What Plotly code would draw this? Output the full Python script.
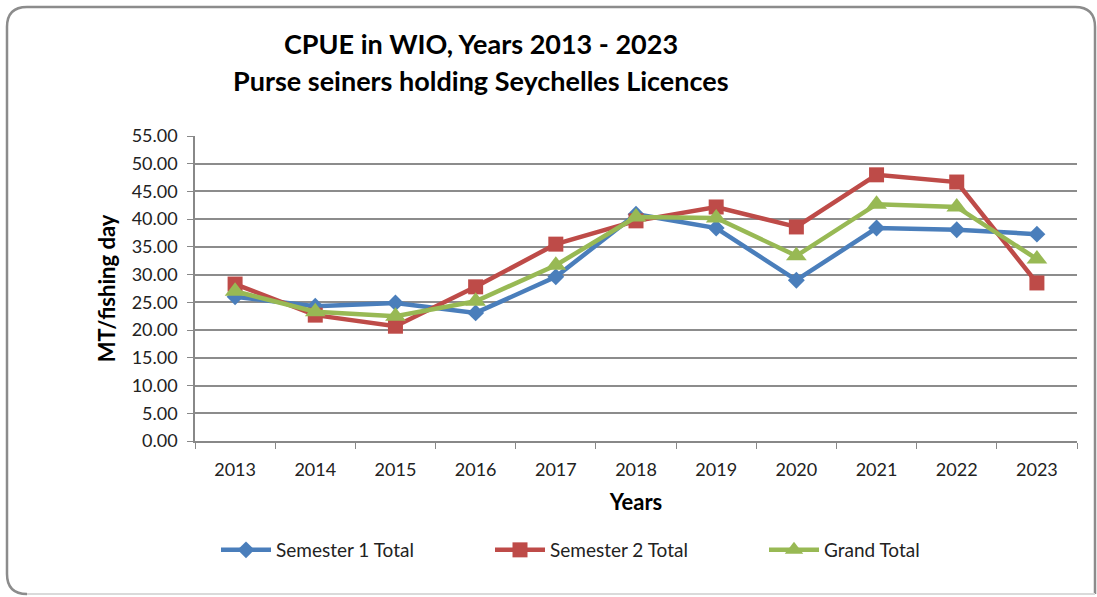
import plotly.graph_objects as go

years = ["2013", "2014", "2015", "2016", "2017", "2018", "2019", "2020", "2021", "2022", "2023"]
semester1 = [26.0, 24.3, 24.9, 23.1, 29.6, 40.9, 38.4, 29.0, 38.4, 38.1, 37.3]
semester2 = [28.3, 22.7, 20.7, 27.8, 35.5, 39.7, 42.2, 38.6, 48.0, 46.7, 28.5]
grand_total = [27.0, 23.3, 22.5, 25.2, 31.7, 40.4, 40.2, 33.4, 42.7, 42.2, 32.8]
y_ticks = [0, 5, 10, 15, 20, 25, 30, 35, 40, 45, 50, 55]

FONT = "Lato"
TXT = "#222222"
fig = go.Figure()
fig.add_trace(go.Scatter(x=years, y=semester1, name="Semester 1 Total", mode="lines+markers",
                         line=dict(color="#4A7EBB", width=4.5),
                         marker=dict(symbol="diamond", size=13, color="#4A7EBB")))
fig.add_trace(go.Scatter(x=years, y=semester2, name="Semester 2 Total", mode="lines+markers",
                         line=dict(color="#BE4B48", width=4.5),
                         marker=dict(symbol="square", size=15, color="#BE4B48")))
fig.add_trace(go.Scatter(x=years, y=grand_total, name="Grand Total", mode="lines+markers",
                         line=dict(color="#98B954", width=4.5),
                         marker=dict(symbol="triangle-up", size=18, color="#98B954")))

L, R, T, B = 195, 1077, 136, 441
W, H = R - L, B - T
def px(x):
    return (x - L) / W
def py(y):
    return (B - y) / H

# rounded frame (left, top, right in gray; bottom edge lighter like a shadow)
x0, x1, y0, y1 = px(7), px(1095), py(594), py(7)
rx, ry = 20 / W, 20 / H
path = (f"M {x1},{y0} L {x1},{y1-ry} Q {x1},{y1} {x1-rx},{y1} L {x0+rx},{y1} "
        f"Q {x0},{y1} {x0},{y1-ry} L {x0},{y0+ry} Q {x0},{y0} {x0+rx},{y0}")
fig.add_shape(type="path", path=path, xref="paper", yref="paper",
              line=dict(color="#8C8C8C", width=2.5), layer="below")
fig.add_shape(type="line", x0=x0 + rx, x1=x1, y0=y0, y1=y0, xref="paper", yref="paper",
              line=dict(color="#DADADA", width=2), layer="below")

fig.add_annotation(text="<b>CPUE in WIO, Years 2013 - 2023</b>", x=px(481), y=py(44),
                   xref="paper", yref="paper", showarrow=False, xanchor="center", yanchor="middle",
                   font=dict(family=FONT, size=27, color="#000"))
fig.add_annotation(text="<b>Purse seiners holding Seychelles Licences</b>", x=px(481), y=py(80),
                   xref="paper", yref="paper", showarrow=False, xanchor="center", yanchor="middle",
                   font=dict(family=FONT, size=27, color="#000"))

fig.update_layout(
    width=1097, height=597,
    margin=dict(l=L, r=1097 - R, t=T, b=597 - B, autoexpand=False),
    paper_bgcolor="white", plot_bgcolor="white",
    font=dict(family=FONT, size=18, color=TXT),
    showlegend=True,
    legend=dict(orientation="h", x=px(216), xanchor="left", y=py(550), yanchor="middle",
                font=dict(family=FONT, size=19, color=TXT), entrywidth=209, entrywidthmode="pixels",
                itemwidth=50, tracegroupgap=0),
)
fig.update_xaxes(type="category", range=[-0.5, 10.5], showline=True, linecolor="#888888", linewidth=1.5,
                 ticks="outside", tickson="boundaries", ticklen=6, tickcolor="#888888",
                 showgrid=False, tickfont=dict(family=FONT, size=18, color=TXT), ticklabelstandoff=12,
                 title=dict(text="<b>Years</b>", font=dict(family=FONT, size=22, color="#000"), standoff=15))
fig.update_yaxes(range=[0, 55], tickvals=y_ticks, ticktext=[f"{v:.2f}" for v in y_ticks],
                 showline=True, linecolor="#888888", linewidth=1.5, ticks="outside", ticklen=6,
                 tickcolor="#888888", showgrid=True, gridcolor="#8C8C8C", gridwidth=1.5,
                 zeroline=False, tickfont=dict(family=FONT, size=18, color=TXT), ticklabelstandoff=6,
                 title=dict(text="<b>MT/fishing day</b>", font=dict(family=FONT, size=22, color="#000"), standoff=10))

fig.write_html("out.html", config={"displayModeBar": False},
               post_script="document.body.style.margin='0';")
